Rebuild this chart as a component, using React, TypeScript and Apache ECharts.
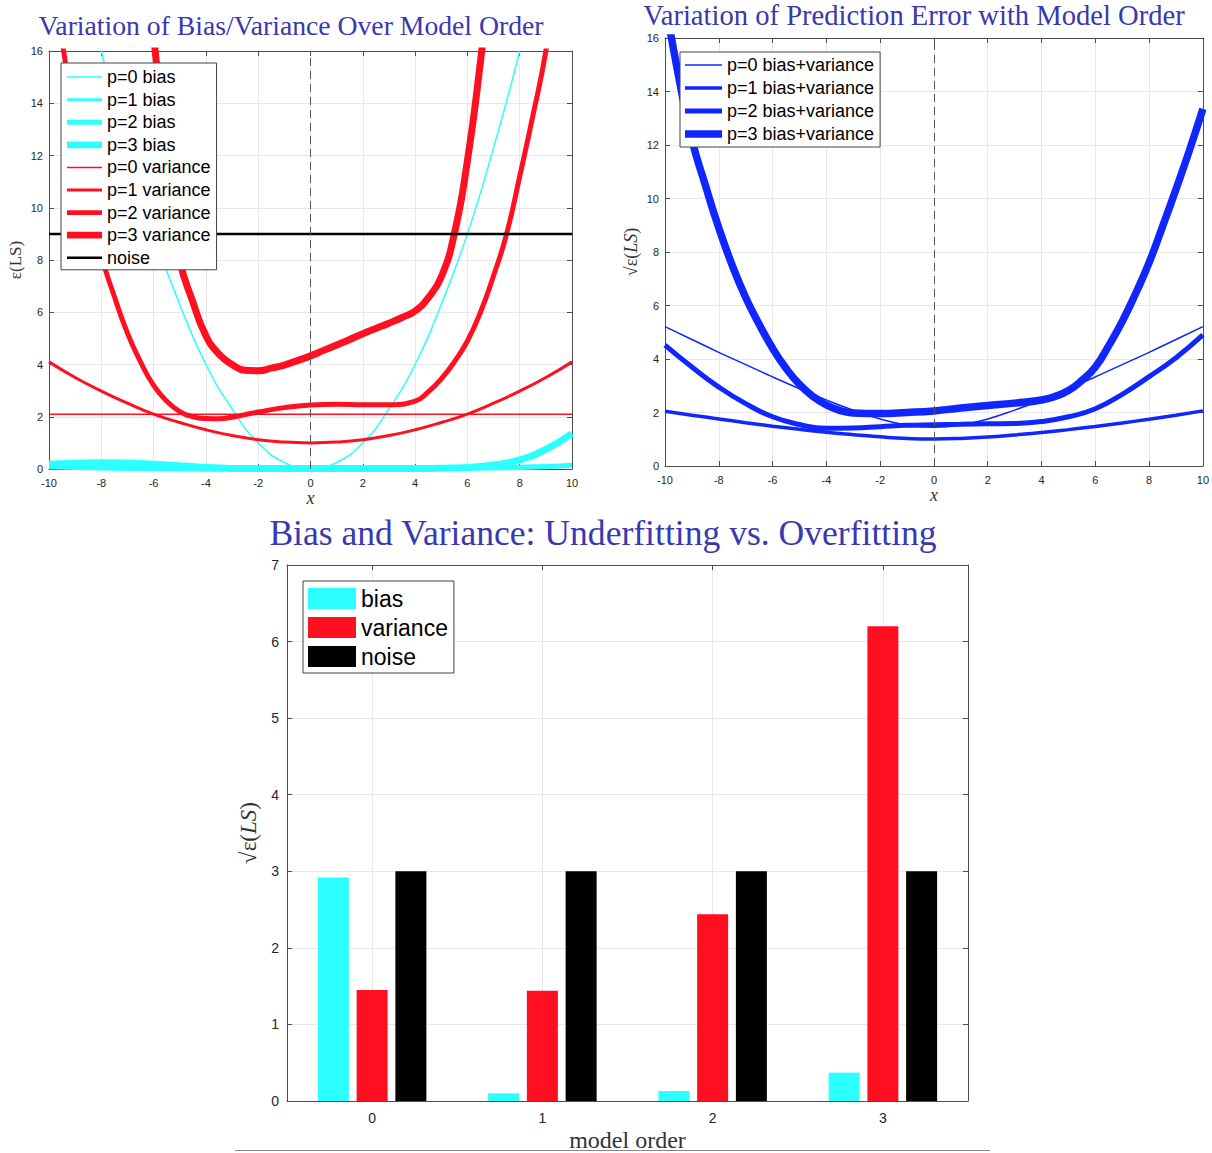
import React, { useEffect, useRef } from 'react';
import * as echarts from 'echarts';

// ---------- data ----------
const X_UNIT = [-10, -9, -8, -7, -6, -5, -4, -3, -2, -1, 0, 1, 2, 3, 4, 5, 6, 7, 8, 9, 10];

// top-left: bias / variance over x
const BIAS_P0 = [25.0, 20.3, 16.0, 12.3, 9.0, 6.3, 4.0, 2.3, 1.0, 0.25, 0.0, 0.25, 1.0, 2.3, 4.0, 6.3, 9.0, 12.3, 16.0, 20.3, 25.0];
const BIAS_P1 = [0.12, 0.12, 0.12, 0.11, 0.1, 0.09, 0.08, 0.07, 0.06, 0.05, 0.05, 0.05, 0.05, 0.06, 0.07, 0.08, 0.09, 0.1, 0.11, 0.12, 0.13];
const BIAS_P2 = [0.22, 0.26, 0.28, 0.27, 0.22, 0.16, 0.1, 0.06, 0.03, 0.02, 0.02, 0.02, 0.02, 0.02, 0.02, 0.03, 0.03, 0.04, 0.06, 0.09, 0.14];
const BIAS_P3 = [0.12, 0.1, 0.08, 0.06, 0.05, 0.04, 0.03, 0.02, 0.02, 0.02, 0.02, 0.02, 0.02, 0.02, 0.02, 0.03, 0.06, 0.15, 0.35, 0.75, 1.36];
const VAR_P0 = [2.1, 2.1, 2.1, 2.1, 2.1, 2.1, 2.1, 2.1, 2.1, 2.1, 2.1, 2.1, 2.1, 2.1, 2.1, 2.1, 2.1, 2.1, 2.1, 2.1, 2.1];
const VAR_P1 = [4.1, 3.5, 2.98, 2.52, 2.1, 1.78, 1.5, 1.28, 1.12, 1.03, 1.0, 1.03, 1.12, 1.28, 1.5, 1.78, 2.1, 2.52, 2.98, 3.5, 4.1];
const X_VAR_P2 = [-10, -9.5, -9, -8.5, -8, -7.5, -7, -6.5, -6, -5.5, -5, -4.5, -4, -3.5, -3, -2.5, -2, -1, 0, 1, 2, 3, 4, 4.5, 5, 5.5, 6, 6.5, 7, 7.5, 8, 8.5, 9, 9.5, 10];
const VAR_P2 = [20.5, 16.4, 13.4, 10.7, 8.2, 6.6, 5.2, 4.1, 3.2, 2.6, 2.2, 2.0, 1.93, 1.92, 1.98, 2.08, 2.18, 2.35, 2.45, 2.48, 2.46, 2.46, 2.6, 2.95, 3.45, 4.1, 4.9, 6.0, 7.4, 9.0, 11.2, 13.5, 16.0, 19.5, 23.5];
const X_VAR_P3 = [-6.5, -6, -5.5, -5, -4.5, -4, -3.5, -3, -2.5, -2, -1.5, -1, -0.5, 0, 0.5, 1, 1.5, 2, 2.5, 3, 3.5, 4, 4.5, 5, 5.5, 6, 6.5, 7];
const VAR_P3 = [21.0, 16.6, 11.5, 8.0, 6.4, 5.1, 4.4, 4.0, 3.78, 3.76, 3.86, 3.98, 4.15, 4.33, 4.54, 4.75, 4.96, 5.18, 5.38, 5.58, 5.8, 6.05, 6.55, 7.35, 9.0, 11.8, 15.6, 20.0];
const X_NOISE = [-10, 10];
const NOISE = [9, 9];

// top-right: bias + variance
const BV_P0 = [5.21, 4.73, 4.25, 3.79, 3.33, 2.89, 2.47, 2.09, 1.76, 1.53, 1.45, 1.53, 1.76, 2.09, 2.47, 2.89, 3.33, 3.79, 4.25, 4.73, 5.21];
const BV_P1 = [2.05, 1.9, 1.76, 1.62, 1.49, 1.37, 1.26, 1.17, 1.09, 1.03, 1.01, 1.03, 1.08, 1.16, 1.25, 1.36, 1.48, 1.61, 1.75, 1.9, 2.06];
const BV_P2 = [4.52, 3.7, 2.95, 2.33, 1.84, 1.55, 1.41, 1.42, 1.47, 1.52, 1.54, 1.56, 1.58, 1.59, 1.66, 1.84, 2.14, 2.68, 3.34, 4.05, 4.9];
const X_BV_P3 = [-10, -9.5, -9, -8.5, -8, -7.5, -7, -6.5, -6, -5.5, -5, -4.5, -4, -3.5, -3, -2, -1, 0, 1, 2, 3, 4, 4.5, 5, 5.5, 6, 6.5, 7, 7.5, 8, 8.5, 9, 9.5, 10];
const BV_P3 = [17.4, 14.6, 12.2, 10.5, 8.9, 7.5, 6.3, 5.3, 4.4, 3.65, 3.05, 2.6, 2.28, 2.08, 1.98, 1.96, 2.0, 2.06, 2.17, 2.26, 2.35, 2.47, 2.6, 2.82, 3.2, 3.7, 4.5, 5.4, 6.45, 7.6, 8.95, 10.35, 11.8, 13.35];

// bottom: bars
const CATEGORIES = ['0', '1', '2', '3'];
const BIAS_BAR = [2.92, 0.1, 0.13, 0.37];
const VAR_BAR = [1.45, 1.44, 2.44, 6.2];
const NOISE_BAR = [3, 3, 3, 3];

const X_TICKS_TOP = [-10, 10];
const Y_RANGE_TOP = [0, 16];
const Y_RANGE_BAR = [0, 7];

// ---------- styles ----------
const CYAN = '#2cffff';
const RED = '#ff1020';
const BLUE = '#1026ff';
const BLACK = '#000000';
const TITLE_COLOR = '#3838b0';
const SANS = '"Liberation Sans", Arial, sans-serif';
const SERIF = '"Liberation Serif", "Times New Roman", serif';
const AXIS_COLOR = '#4d4d4d';
const GRID_COLOR = '#e8e8e8';
const LABEL_COLOR = '#262626';

const pairs = (xs: number[], ys: number[]) => xs.map((x, i) => [x, ys[i]]);
const lineIcon = (w: number) => `path://M0,0H36V${w}H0Z`;

function valueXAxis(gridIndex: number, position: string, main: boolean) {
  return {
    type: 'value',
    gridIndex,
    position,
    min: X_TICKS_TOP[0],
    max: X_TICKS_TOP[1],
    interval: 2,
    axisLine: { show: true, onZero: false, lineStyle: { color: AXIS_COLOR, width: 1 } },
    axisTick: { show: true, inside: true, length: 5, lineStyle: { color: AXIS_COLOR } },
    axisLabel: { show: main, margin: 8, fontSize: 11, fontFamily: SANS, color: LABEL_COLOR },
    splitLine: { show: main, lineStyle: { color: GRID_COLOR, width: 1 } },
    name: main ? 'x' : '',
    nameLocation: 'middle',
    nameGap: 20,
    nameTextStyle: { fontFamily: SERIF, fontStyle: 'italic', fontSize: 18, color: '#333' },
  };
}

function valueYAxis(gridIndex: number, position: string, main: boolean, range: number[], interval: number, fontSize: number, margin: number) {
  return {
    type: 'value',
    gridIndex,
    position,
    min: range[0],
    max: range[1],
    interval,
    axisLine: { show: true, onZero: false, lineStyle: { color: AXIS_COLOR, width: 1 } },
    axisTick: { show: true, inside: true, length: 5, lineStyle: { color: AXIS_COLOR } },
    axisLabel: { show: main, margin, fontSize, fontFamily: SANS, color: LABEL_COLOR },
    splitLine: { show: main, lineStyle: { color: GRID_COLOR, width: 1 } },
  };
}

function lineSeries(name: string, data: number[][], color: string, width: number, axisIndex: number, extra: any = {}) {
  return {
    type: 'line',
    name,
    data,
    xAxisIndex: axisIndex,
    yAxisIndex: axisIndex,
    showSymbol: false,
    symbol: 'none',
    smooth: 0.5,
    clip: true,
    lineStyle: { color, width },
    itemStyle: { color },
    emphasis: { disabled: true },
    ...extra,
  };
}

const zeroMarkLine = {
  silent: true,
  symbol: ['none', 'none'],
  label: { show: false },
  lineStyle: { color: '#555', type: [8, 5], width: 1 },
  data: [{ xAxis: 0 }],
};

const HALF_CATS = ['', ...CATEGORIES.flatMap((c) => [c, ''])];
const odd = (i: number) => i % 2 === 1;

export default function App() {
  const ref = useRef<HTMLDivElement>(null);

  useEffect(() => {
    document.body.style.margin = '0';
    if (!ref.current) return;
    const chart = echarts.init(ref.current, undefined, { renderer: 'svg' });

    const legendBase = {
      orient: 'vertical',
      backgroundColor: '#ffffff',
      borderColor: '#444',
      borderWidth: 1,
      borderRadius: 0,
      selectedMode: false,
      itemStyle: { borderWidth: 0 },
      textStyle: { fontFamily: SANS, fontSize: 18, color: '#000' },
    };

    const option: any = {
      animation: false,
      backgroundColor: '#ffffff',
      grid: [
        { left: 49, top: 51, width: 523, height: 418 },
        { left: 665, top: 38, width: 538, height: 428 },
        { left: 287, top: 565, width: 681, height: 538 },
      ],
      xAxis: [
        valueXAxis(0, 'bottom', true),
        valueXAxis(0, 'top', false),
        valueXAxis(1, 'bottom', true),
        valueXAxis(1, 'top', false),
        {
          type: 'category',
          gridIndex: 2,
          position: 'bottom',
          data: CATEGORIES,
          show: false,
        },
        {
          type: 'category',
          gridIndex: 2,
          position: 'bottom',
          data: HALF_CATS,
          boundaryGap: false,
          axisLine: { show: true, onZero: false, lineStyle: { color: AXIS_COLOR } },
          axisTick: { show: true, inside: true, length: 5, interval: odd, lineStyle: { color: AXIS_COLOR } },
          axisLabel: { show: true, interval: odd, margin: 10, fontSize: 14, fontFamily: SANS, color: LABEL_COLOR },
          splitLine: { show: true, interval: odd, lineStyle: { color: GRID_COLOR } },
          name: 'model order',
          nameLocation: 'middle',
          nameGap: 27,
          nameTextStyle: { fontFamily: SERIF, fontSize: 24, color: '#333' },
        },
        {
          type: 'category',
          gridIndex: 2,
          position: 'top',
          data: HALF_CATS,
          boundaryGap: false,
          axisLine: { show: true, onZero: false, lineStyle: { color: AXIS_COLOR } },
          axisTick: { show: true, inside: true, length: 5, interval: odd, lineStyle: { color: AXIS_COLOR } },
          axisLabel: { show: false },
          splitLine: { show: false },
        },
      ],
      yAxis: [
        {
          ...valueYAxis(0, 'left', true, Y_RANGE_TOP, 2, 11, 6),
          name: 'ε(LS)',
          nameLocation: 'middle',
          nameGap: 25,
          nameTextStyle: { fontFamily: SERIF, fontSize: 17, color: '#333' },
        },
        valueYAxis(0, 'right', false, Y_RANGE_TOP, 2, 11, 6),
        {
          ...valueYAxis(1, 'left', true, Y_RANGE_TOP, 2, 11, 6),
          name: '{r|√ε(}{i|LS}{r|)}',
          nameLocation: 'middle',
          nameGap: 25,
          nameTextStyle: {
            fontFamily: SERIF,
            fontSize: 18,
            color: '#333',
            rich: {
              r: { fontFamily: SERIF, fontSize: 18, color: '#333' },
              i: { fontFamily: SERIF, fontSize: 18, fontStyle: 'italic', color: '#333' },
            },
          },
        },
        valueYAxis(1, 'right', false, Y_RANGE_TOP, 2, 11, 6),
        {
          ...valueYAxis(2, 'left', true, Y_RANGE_BAR, 1, 14, 8),
          name: '{r|√ε(}{i|LS}{r|)}',
          nameLocation: 'middle',
          nameGap: 24,
          nameTextStyle: {
            fontFamily: SERIF,
            fontSize: 23,
            color: '#333',
            rich: {
              r: { fontFamily: SERIF, fontSize: 23, color: '#333' },
              i: { fontFamily: SERIF, fontSize: 23, fontStyle: 'italic', color: '#333' },
            },
          },
        },
        valueYAxis(2, 'right', false, Y_RANGE_BAR, 1, 14, 8),
      ],
      legend: [
        {
          ...legendBase,
          left: 61,
          top: 63,
          padding: [5, 6, 3, 6],
          itemWidth: 35,
          itemHeight: 14,
          itemGap: 4.6,
          data: [
            { name: 'p=0 bias', icon: lineIcon(1.5) },
            { name: 'p=1 bias', icon: lineIcon(3) },
            { name: 'p=2 bias', icon: lineIcon(5) },
            { name: 'p=3 bias', icon: lineIcon(7) },
            { name: 'p=0 variance', icon: lineIcon(1.5) },
            { name: 'p=1 variance', icon: lineIcon(3) },
            { name: 'p=2 variance', icon: lineIcon(5) },
            { name: 'p=3 variance', icon: lineIcon(7) },
            { name: 'noise', icon: lineIcon(2.5) },
          ],
        },
        {
          ...legendBase,
          left: 680,
          top: 52,
          padding: [4, 6, 4, 5],
          itemWidth: 37,
          itemHeight: 14,
          itemGap: 5,
          data: [
            { name: 'p=0 bias+variance', icon: lineIcon(1.5) },
            { name: 'p=1 bias+variance', icon: lineIcon(3.5) },
            { name: 'p=2 bias+variance', icon: lineIcon(5) },
            { name: 'p=3 bias+variance', icon: lineIcon(7.5) },
          ],
        },
        {
          ...legendBase,
          left: 303,
          top: 581,
          padding: [6, 6, 5, 5],
          itemWidth: 48,
          itemHeight: 21,
          itemGap: 6,
          textStyle: { fontFamily: SANS, fontSize: 23, color: '#000' },
          formatter: (n: string) => n.replace('_bar', ''),
          data: [
            { name: 'bias_bar', icon: 'rect' },
            { name: 'variance_bar', icon: 'rect' },
            { name: 'noise_bar', icon: 'rect' },
          ],
        },
      ],
      series: [
        lineSeries('p=0 bias', pairs(X_UNIT, BIAS_P0), CYAN, 1.5, 0, { markLine: zeroMarkLine }),
        lineSeries('p=1 bias', pairs(X_UNIT, BIAS_P1), CYAN, 3, 0),
        lineSeries('p=2 bias', pairs(X_UNIT, BIAS_P2), CYAN, 5, 0),
        lineSeries('p=3 bias', pairs(X_UNIT, BIAS_P3), CYAN, 7, 0),
        lineSeries('p=0 variance', pairs(X_UNIT, VAR_P0), RED, 1.5, 0),
        lineSeries('p=1 variance', pairs(X_UNIT, VAR_P1), RED, 3, 0),
        lineSeries('p=2 variance', pairs(X_VAR_P2, VAR_P2), RED, 5, 0),
        lineSeries('p=3 variance', pairs(X_VAR_P3, VAR_P3), RED, 7, 0),
        lineSeries('noise', pairs(X_NOISE, NOISE), BLACK, 2.5, 0, { smooth: false }),

        lineSeries('p=0 bias+variance', pairs(X_UNIT, BV_P0), BLUE, 1.5, 2, { markLine: zeroMarkLine }),
        lineSeries('p=1 bias+variance', pairs(X_UNIT, BV_P1), BLUE, 3.5, 2),
        lineSeries('p=2 bias+variance', pairs(X_UNIT, BV_P2), BLUE, 5, 2),
        lineSeries('p=3 bias+variance', pairs(X_BV_P3, BV_P3), BLUE, 7.5, 2),

        {
          type: 'bar', name: 'bias_bar', data: BIAS_BAR, xAxisIndex: 4, yAxisIndex: 4,
          barWidth: 31, barGap: '25%', itemStyle: { color: CYAN }, emphasis: { disabled: true },
        },
        {
          type: 'bar', name: 'variance_bar', data: VAR_BAR, xAxisIndex: 4, yAxisIndex: 4,
          barWidth: 31, barGap: '25%', itemStyle: { color: RED }, emphasis: { disabled: true },
        },
        {
          type: 'bar', name: 'noise_bar', data: NOISE_BAR, xAxisIndex: 4, yAxisIndex: 4,
          barWidth: 31, barGap: '25%', itemStyle: { color: BLACK }, emphasis: { disabled: true },
        },
      ],
      graphic: [
        {
          type: 'text', x: 291, y: 25, silent: true,
          style: { text: 'Variation of Bias/Variance Over Model Order', align: 'center', verticalAlign: 'middle', fill: TITLE_COLOR, fontFamily: SERIF, fontSize: 27.7 },
        },
        {
          type: 'text', x: 914, y: 15, silent: true,
          style: { text: 'Variation of Prediction Error with Model Order', align: 'center', verticalAlign: 'middle', fill: TITLE_COLOR, fontFamily: SERIF, fontSize: 28.6 },
        },
        {
          type: 'text', x: 603, y: 533, silent: true,
          style: { text: 'Bias and Variance: Underfitting vs. Overfitting', align: 'center', verticalAlign: 'middle', fill: TITLE_COLOR, fontFamily: SERIF, fontSize: 35.6 },
        },
        {
          type: 'line', silent: true,
          shape: { x1: 235, y1: 1150.5, x2: 990, y2: 1150.5 },
          style: { stroke: '#888', lineWidth: 1 },
        },
      ],
    };

    chart.setOption(option);
    return () => chart.dispose();
  }, []);

  return <div ref={ref} style={{ width: 1212, height: 1153 }} />;
}
